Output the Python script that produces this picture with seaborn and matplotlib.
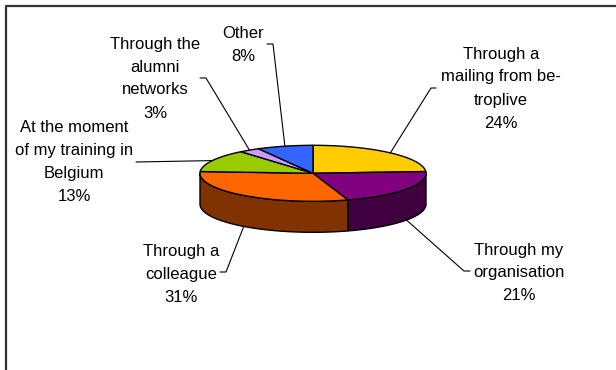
import numpy as np
import matplotlib
matplotlib.use("Agg")
import matplotlib.pyplot as plt
from matplotlib.patches import Polygon
import seaborn as sns

# Survey answers: how respondents heard about the programme
categories = [
    "Through a\nmailing from be-\ntroplive",
    "Through my\norganisation",
    "Through a\ncolleague",
    "At the moment\nof my training in\nBelgium",
    "Through the\nalumni\nnetworks",
    "Other",
]
shares = [24, 21, 31, 13, 3, 8]
slice_colors = ["#FFCC00", "#800080", "#FF6600", "#99CC00", "#CC99FF", "#3366FF"]

# label block centre (x, y) and leader-line elbow points, in pixel units
label_centers = [(501, 87), (519, 271.5), (181, 273), (74, 160.5), (155, 77), (243, 43.5)]
leader_elbows = [
    [(436, 88), (431, 88)],
    [(470, 271), (464, 271)],
    [(220, 272), (226, 272)],
    [(136, 162)],
    [(200, 78), (206, 78)],
    [(267, 44), (273, 44)],
]

sns.set_style("white")
plt.rcParams["font.family"] = ["Liberation Sans", "DejaVu Sans"]

palette = sns.color_palette(slice_colors)
side_palette = [tuple(c * 0.5 for c in col) for col in palette]

W, H = 616, 370
fig = plt.figure(figsize=(W / 100, H / 100), dpi=100)
ax = fig.add_axes([0, 0, 1, 1])
ax.set_xlim(0, W)
ax.set_ylim(H, 0)
ax.axis("off")

# chart frame (only top and left edges fall inside the image)
ax.plot([6, 6, W + 5], [H + 5, 6, 6], color="#333333", lw=1.6, solid_capstyle="butt")

# pie geometry: projected ellipse with a visible side wall
cx, cy, a, b, depth = 313, 173.3, 113, 28, 31


def rim(theta_deg):
    t = np.radians(theta_deg)
    return cx + a * np.cos(t), cy - b * np.sin(t)


fractions = np.array(shares, dtype=float) / sum(shares)
bounds = 90 - 360 * np.concatenate([[0], np.cumsum(fractions)])

# side walls for the front half of the cylinder
for i in range(len(shares)):
    t_hi, t_lo = bounds[i], bounds[i + 1]
    # front half corresponds to angles in (-180, 0)
    lo = max(t_lo, -180)
    hi = min(t_hi, 0)
    if hi <= lo:
        continue
    ts = np.linspace(hi, lo, 80)
    top = np.array([rim(t) for t in ts])
    bottom = top + np.array([0, depth])
    pts = np.vstack([top, bottom[::-1]])
    ax.add_patch(Polygon(pts, closed=True, facecolor=side_palette[i],
                         edgecolor="black", lw=1.0, joinstyle="round"))

# top faces
for i in range(len(shares)):
    ts = np.linspace(bounds[i], bounds[i + 1], 120)
    arc = np.array([rim(t) for t in ts])
    pts = np.vstack([[cx, cy], arc])
    ax.add_patch(Polygon(pts, closed=True, facecolor=palette[i],
                         edgecolor="black", lw=1.0, joinstyle="round"))

# labels and leader lines
line_step = 23
for i, (cat, val) in enumerate(zip(categories, shares)):
    lines = cat.split("\n") + [f"{val}%"]
    lx, ly = label_centers[i]
    n = len(lines)
    for k, txt in enumerate(lines):
        y = ly + (k - (n - 1) / 2) * line_step
        ax.text(lx, y, txt, ha="center", va="center_baseline",
                fontsize=12, color="black")

    mid = (bounds[i] + bounds[i + 1]) / 2
    ax_x, ax_y = rim(mid)
    if np.sin(np.radians(mid)) < 0:
        ax_y += depth
    pts = leader_elbows[i] + [(ax_x, ax_y)]
    xs, ys = zip(*pts)
    ax.plot(xs, ys, color="black", lw=0.8)

fig.savefig("out.png", dpi=100)
